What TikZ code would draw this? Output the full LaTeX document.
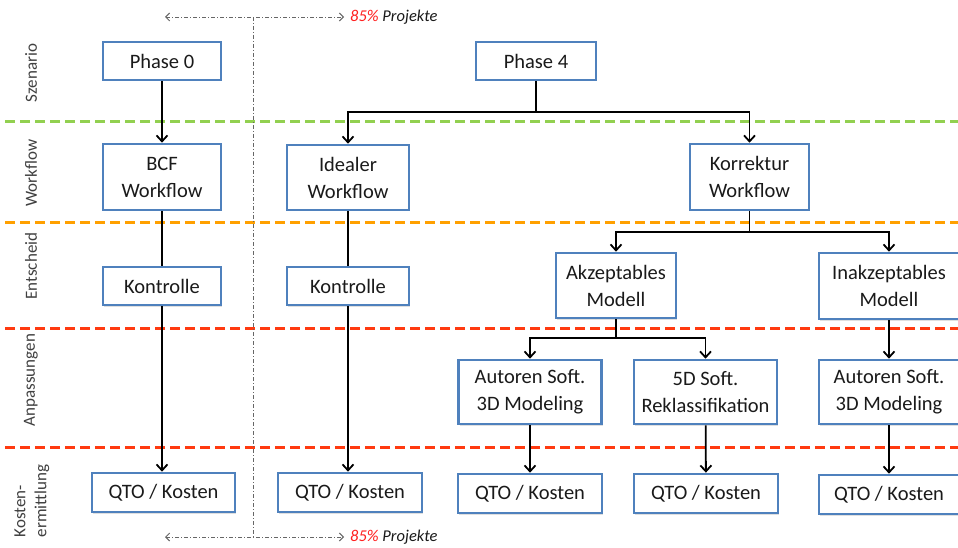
\documentclass[tikz,border=0pt]{standalone}
\usepackage{fontspec}
\setmainfont{Carlito}
\usetikzlibrary{arrows.meta,shadows}
\definecolor{boxblue}{HTML}{4F81BD}
\definecolor{lgreen}{HTML}{92D050}
\definecolor{lorange}{HTML}{FFA000}
\definecolor{lred}{HTML}{FF3A10}
\definecolor{labgray}{HTML}{404040}
\definecolor{pctred}{HTML}{FF2020}
\definecolor{boxtext}{HTML}{1A1A1A}
\tikzset{
  box/.style={draw=boxblue, line width=2.6pt, fill=white, align=center,
    inner sep=0pt, text=boxtext, font=\fontsize{20.5}{27}\selectfont,
    drop shadow={opacity=0.25, shadow xshift=1pt, shadow yshift=-1.5pt}},
  conn/.style={line width=1.8pt, black},
  arr/.style={conn, -{Straight Barb[length=6pt,width=11pt,line width=1.8pt]}},
  phaseline/.style={line width=3pt, dash pattern=on 10pt off 5pt},
  lanelabel/.style={rotate=90, font=\fontsize{17}{21}\selectfont, text=labgray, align=left},
  dashdot/.style={gray!80!black, line width=0.9pt, dash pattern=on 4pt off 2pt on 1pt off 2pt},
  pct/.style={font=\fontsize{16.5}{18}\selectfont\itshape, anchor=west, inner sep=0pt, text=boxtext}
}
\begin{document}
\begin{tikzpicture}[x=1pt,y=-1pt]
\useasboundingbox[fill=white] (0,0) rectangle (958,548);

% phase separators
\draw[phaseline, lgreen] (5,122) -- (958,122);
\draw[phaseline, lorange] (5,222) -- (958,222);
\draw[phaseline, lred] (5,328) -- (958,328);
\draw[phaseline, lred] (5,447) -- (958,447);

% lane labels
\node[lanelabel] (lSz) at (31,73) {Szenario};
\node[lanelabel] (lWf) at (31,173) {Workflow};
\node[lanelabel] (lEn) at (31,266) {Entscheid};
\node[lanelabel] (lAn) at (31,380) {Anpassungen};
\node[lanelabel] (lKo) at (32,501) {Kosten-\\ermittlung};

% 85% markers
\coordinate (tL) at (165,17);
\coordinate (tR) at (344,17);
\coordinate (tM) at (253,17);
\coordinate (bL) at (165,537);
\coordinate (bR) at (344,537);
\coordinate (bM) at (253,537);
\draw[dashdot] (tM) -- (bM);
\draw[dashdot, {Straight Barb[length=4pt,width=8pt,line width=1pt]}-{Straight Barb[length=4pt,width=8pt,line width=1pt]}] (tL) -- (tR);
\draw[dashdot, {Straight Barb[length=4pt,width=8pt,line width=1pt]}-{Straight Barb[length=4pt,width=8pt,line width=1pt]}] (bL) -- (bR);
\node[pct] (tP) at (350,17) {\textcolor{pctred}{85\%} Projekte};
\node[pct] (bP) at (350,537) {\textcolor{pctred}{85\%} Projekte};

% boxes
\node[box, minimum width=118pt, minimum height=38pt] (p0) at (162,61) {Phase 0};
\node[box, minimum width=120pt, minimum height=38pt] (p4) at (536,61) {Phase 4};
\node[box, minimum width=118pt, minimum height=66pt] (bcf) at (162,177) {BCF\\Workflow};
\node[box, minimum width=122pt, minimum height=65pt] (ide) at (348,177.5) {Idealer\\Workflow};
\node[box, minimum width=119pt, minimum height=66pt] (kor) at (749.5,177) {Korrektur\\Workflow};
\node[box, minimum width=118pt, minimum height=38pt] (k1) at (162,286) {Kontrolle};
\node[box, minimum width=122pt, minimum height=38pt] (k2) at (348,286) {Kontrolle};
\node[box, minimum width=120pt, minimum height=65pt] (akz) at (616,285.5) {Akzeptables\\Modell};
\node[box, minimum width=140pt, minimum height=66pt] (ink) at (889,286) {Inakzeptables\\Modell};
\node[box, minimum width=143pt, minimum height=64pt] (au1) at (530,392) {Autoren Soft.\\3D Modeling};
\node[box, minimum width=143pt, minimum height=64pt] (sd) at (705.5,392) {5D Soft.\\Reklassifikation};
\node[box, minimum width=140pt, minimum height=64pt] (au2) at (889,392) {Autoren Soft.\\3D Modeling};
\node[box, minimum width=143pt, minimum height=39pt] (q1) at (163.5,492.5) {QTO / Kosten};
\node[box, minimum width=144pt, minimum height=39pt] (q2) at (350,492.5) {QTO / Kosten};
\node[box, minimum width=144pt, minimum height=39pt] (q3) at (530,493.5) {QTO / Kosten};
\node[box, minimum width=144pt, minimum height=39pt] (q4) at (706,493.5) {QTO / Kosten};
\node[box, minimum width=140pt, minimum height=39pt] (q5) at (889,494.5) {QTO / Kosten};

% connectors
\draw[arr] (p0) -- (bcf);
\draw[conn] (bcf) -- (k1);
\draw[arr] (k1.south) -- (k1.south |- q1.north);

\coordinate (j4) at (536,112);
\draw[conn] (p4) -- (j4);
\draw[arr] (j4) -| (ide);
\draw[arr] (j4) -| (kor);

\draw[conn] (ide) -- (k2);
\draw[arr] (k2.south) -- (k2.south |- q2.north);

\coordinate (jk) at (749.5,232);
\draw[conn] (kor) -- (jk);
\draw[arr] (jk) -| (akz);
\draw[arr] (jk) -| (ink);

\coordinate (ja) at (616,338);
\draw[conn] (akz) -- (ja);
\draw[arr] (ja) -| (au1);
\draw[arr] (ja) -| (sd);

\draw[arr] (ink) -- (au2);
\draw[arr] (au1) -- (q3);
\draw[arr] (sd) -- (q4);
\draw[arr] (au2) -- (q5);
\end{tikzpicture}
\end{document}
